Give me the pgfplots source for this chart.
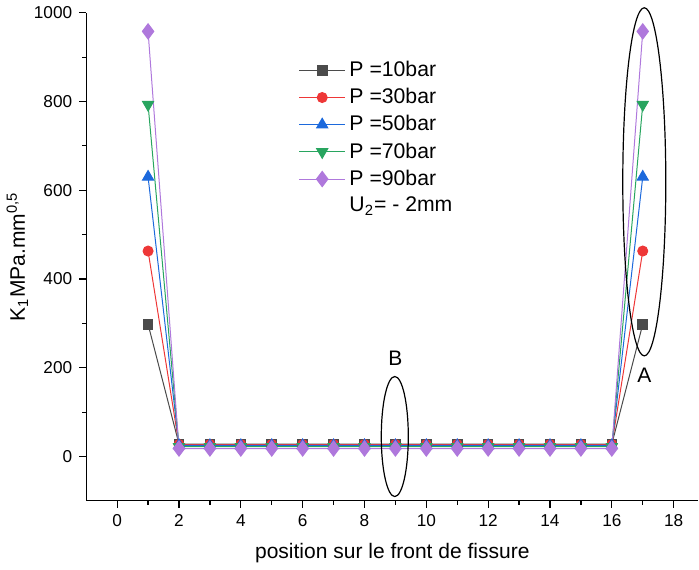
\documentclass[border=0pt]{standalone}
\usepackage{pgfplots}
\pgfplotsset{compat=1.18}
\usepackage{fontspec}
\setmainfont{Liberation Sans}
\definecolor{cten}{RGB}{75,75,75}
\definecolor{cthirty}{RGB}{238,55,55}
\definecolor{cfifty}{RGB}{28,105,220}
\definecolor{cseventy}{RGB}{40,165,95}
\definecolor{cninety}{RGB}{175,120,220}
\begin{document}
\begin{tikzpicture}
\begin{axis}[
  scale only axis,
  width=306pt, height=244pt,
  xmin=-1, xmax=18.8, ymin=-100, ymax=1000,
  axis lines=left, axis line style={-, line width=0.6pt},
  tick align=outside,
  xtick={0,2,...,18}, ytick={0,200,...,1000},
  minor x tick num=1, minor y tick num=1,
  major tick length=3.5pt, minor tick length=2pt,
  tick style={black, line width=0.6pt},
  /pgf/number format/assume math mode=true,
  /pgf/number format/1000 sep={},
  tick label style={font=\fontsize{8.6}{10}\selectfont},
  label style={font=\fontsize{10.5}{12}\selectfont},
  xlabel={position sur le front de fissure},
  ylabel={K\textsubscript{1}MPa.mm\textsuperscript{0,5}},
  xlabel style={yshift=-1pt},
  ylabel style={yshift=-4pt},
  legend style={draw=none, fill=none, at={(0.337,0.918)}, anchor=north west,
    font=\fontsize{10.6}{12}\selectfont, row sep=0.4pt},
  legend cell align=left,
  legend image code/.code={\draw[mark repeat=2,mark phase=2] plot coordinates {(0cm,0cm) (0.4cm,0cm) (0.8cm,0cm)};},
  every axis plot/.append style={line width=0.5pt},
  clip=false,
]
\addplot[color=cten, mark=square*, mark size=2.4pt, mark options={fill=cten}] coordinates {
(1,298) (2,28) (3,28) (4,28) (5,28) (6,28) (7,28) (8,28) (9,28) (10,28) (11,28) (12,28) (13,28) (14,28) (15,28) (16,28) (17,298)};
\addlegendentry{P =10bar}
\addplot[color=cthirty, mark=*, mark size=2.5pt, mark options={fill=cthirty}] coordinates {
(1,463) (2,27) (3,27) (4,27) (5,27) (6,27) (7,27) (8,27) (9,27) (10,27) (11,27) (12,27) (13,27) (14,27) (15,27) (16,27) (17,463)};
\addlegendentry{P =30bar}
\addplot[color=cfifty, mark=triangle*, mark size=3.2pt, mark options={fill=cfifty}] coordinates {
(1,630) (2,25) (3,25) (4,25) (5,25) (6,25) (7,25) (8,25) (9,25) (10,25) (11,25) (12,25) (13,25) (14,25) (15,25) (16,25) (17,630)};
\addlegendentry{P =50bar}
\addplot[color=cseventy, mark=triangle*, mark size=3.2pt, mark options={fill=cseventy, rotate=180}] coordinates {
(1,793) (2,22) (3,22) (4,22) (5,22) (6,22) (7,22) (8,22) (9,22) (10,22) (11,22) (12,22) (13,22) (14,22) (15,22) (16,22) (17,793)};
\addlegendentry{P =70bar}
\addplot[color=cninety, mark=diamond*, mark size=3.8pt, mark options={fill=cninety}] coordinates {
(1,958) (2,18) (3,18) (4,18) (5,18) (6,18) (7,18) (8,18) (9,18) (10,18) (11,18) (12,18) (13,18) (14,18) (15,18) (16,18) (17,958)};
\addlegendentry{P =90bar}
\addlegendimage{empty legend}
\addlegendentry{U\textsubscript{2}= - 2mm}
\draw[black, line width=0.6pt] (axis cs:17.05,619) ellipse [x radius=10.75pt, y radius=87pt];
\draw[black, line width=0.6pt] (axis cs:8.98,45) ellipse [x radius=6.75pt, y radius=30pt];
\node[font=\fontsize{10.5}{12}\selectfont] at (axis cs:17.05,182) {A};
\node[font=\fontsize{10.5}{12}\selectfont] at (axis cs:9.0,221) {B};
\end{axis}
\end{tikzpicture}
\end{document}
